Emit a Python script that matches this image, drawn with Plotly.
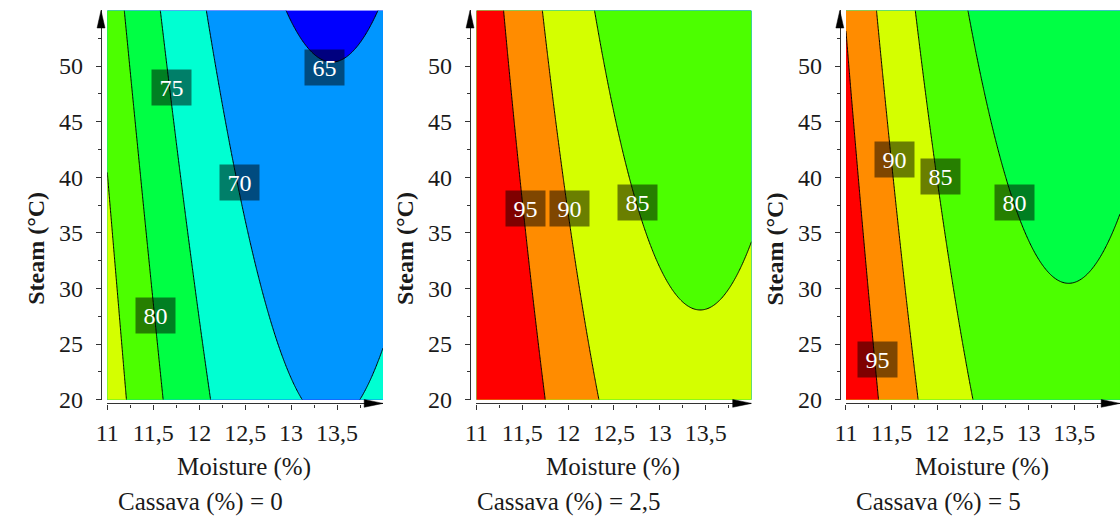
import numpy as np
import plotly.graph_objects as go

# ---------------- data ----------------
x_tickvals = [11, 11.5, 12, 12.5, 13, 13.5]
x_ticktext = ["11", "11,5", "12", "12,5", "13", "13,5"]
x_minor = [11.25, 11.75, 12.25, 12.75, 13.25, 13.75]
y_tickvals = [20, 25, 30, 35, 40, 45, 50]
y_minor = [22.5, 27.5, 32.5, 37.5, 42.5, 47.5, 52.5]
x_range = [11, 14]
y_range = [20, 55]
level_start, level_end, level_step = 60, 95, 5
band_colors = ["#0000ff", "#0000ff", "#0096ff", "#00ffd2", "#00ff44",
               "#4cff00", "#d4ff00", "#ff8c00", "#ff0000"]
cassava_values = ["0", "2,5", "5"]

# contour crossings: moisture, steam, level
p1_moist = [11.21, 11.11, 11.00, 11.607, 11.525, 11.345, 11.183, 12.12, 11.85, 11.72, 11.58,
            13.09, 12.89, 12.69, 12.42, 12.06, 13.75, 14.00, 12.93, 13.48, 13.93]
p1_steam = [20, 30, 40.3, 20, 27.5, 40, 55, 20, 35, 48.1, 55,
            20, 25, 30, 39.4, 55, 20, 24.6, 55, 50.06, 55]
p1_level = [85, 85, 85, 80, 80, 80, 80, 75, 75, 75, 75,
            70, 70, 70, 70, 70, 70, 70, 65, 65, 65]

p2_moist = [11.30, 11.40, 11.51, 11.755, 11.727, 11.997, 12.327, 12.273, 12.52, 12.77, 13.427, 14.0]
p2_steam = [55, 45, 37.2, 20, 55, 37, 20, 55, 45, 37.7, 27.86, 34.25]
p2_level = [95, 95, 95, 95, 90, 90, 90, 85, 85, 85, 85, 85]

p3_moist = [11.00, 11.18, 11.36, 11.342, 11.52, 11.79, 11.755, 12.01, 12.385, 12.33, 12.73, 13.427, 13.985]
p3_steam = [52.8, 35, 20, 55, 40, 20, 55, 40, 20, 55, 40, 30.38, 36.6]
p3_level = [95, 95, 95, 90, 90, 90, 85, 85, 85, 80, 80, 80, 80]

# contour labels: text, moisture, steam
p1_labels = [("75", 11.70, 48.1), ("70", 12.44, 39.5), ("65", 13.36, 49.9), ("80", 11.53, 27.6)]
p2_labels = [("95", 11.54, 37.2), ("90", 12.01, 37.2), ("85", 12.76, 37.7)]
p3_labels = [("90", 11.53, 41.6), ("85", 12.03, 40.1), ("80", 12.85, 37.7), ("95", 11.34, 23.6)]

panels = [
    (p1_moist, p1_steam, p1_level, p1_labels),
    (p2_moist, p2_steam, p2_level, p2_labels),
    (p3_moist, p3_steam, p3_level, p3_labels),
]

# ---------------- layout geometry (pixels) ----------------
W, H = 1120, 531
plot_left = [96.3, 469.5, 843.0]
plot_right = [375.0, 747.5, 1120.0]
plot_top, plot_bottom = 10.7, 409.7
yaxis_px = [90.0, 463.0, 836.8]
xaxis_py = 413.5
FONT = "Liberation Serif, Times New Roman, serif"
TXT = "#1a1a1a"


def fx(px):
    return px / W


def fy(py):
    return 1 - py / H


def fit_surface(mx, st, lv):
    mx = np.asarray(mx, float)
    st = np.asarray(st, float)
    lv = np.asarray(lv, float)
    u = (mx - 12.5) / 1.5
    v = (st - 37.5) / 17.5
    A = np.column_stack([np.ones_like(u), u, v, u * u, v * v, u * v])
    coef, *_ = np.linalg.lstsq(A, lv, rcond=None)
    return coef


def eval_surface(coef, X, Y):
    u = (X - 12.5) / 1.5
    v = (Y - 37.5) / 17.5
    return coef[0] + coef[1] * u + coef[2] * v + coef[3] * u * u + coef[4] * v * v + coef[5] * u * v


# stepwise colorscale: 9 bands (below 60 ... above 95) evenly spread
nb = len(band_colors)
colorscale = []
for k, c in enumerate(band_colors):
    lo = max(0.0, (k - 0.5) / (nb - 1))
    hi = min(1.0, (k + 0.5) / (nb - 1))
    colorscale.append([lo, c])
    colorscale.append([hi, c])

gx = np.linspace(x_range[0], x_range[1], 241)
gy = np.linspace(y_range[0], y_range[1], 281)
GX, GY = np.meshgrid(gx, gy)

fig = go.Figure()
annotations = []
shapes = []
layout_axes = {}
AXC = "#333"

for i, (mx, st, lv, labels) in enumerate(panels):
    n = i + 1
    sfx = "" if n == 1 else str(n)
    coef = fit_surface(mx, st, lv)
    Z = eval_surface(coef, GX, GY)
    fig.add_trace(go.Contour(
        x=gx, y=gy, z=Z, xaxis="x" + sfx, yaxis="y" + sfx,
        autocontour=False,
        contours=dict(start=level_start, end=level_end, size=level_step,
                      coloring="fill", showlines=True),
        line=dict(color="black", width=1),
        colorscale=colorscale, showscale=False, hoverinfo="skip",
    ))

    xdom = [fx(plot_left[i]), fx(plot_right[i])]
    ydom = [fy(plot_bottom), fy(plot_top)]
    tickfont = dict(family=FONT, size=24, color=TXT)
    layout_axes["xaxis" + sfx] = dict(
        domain=xdom, range=x_range, anchor="free", position=fy(xaxis_py),
        tickmode="array", tickvals=x_tickvals, ticktext=x_ticktext,
        ticks="outside", ticklen=5, tickwidth=1.3, tickcolor=AXC,
        minor=dict(tickmode="array", tickvals=x_minor, ticks="outside", ticklen=3, tickcolor=AXC),
        showline=True, linecolor=AXC, linewidth=1.3, showgrid=False, zeroline=False,
        tickfont=tickfont, ticklabelstandoff=3, fixedrange=True,
    )
    layout_axes["yaxis" + sfx] = dict(
        domain=ydom, range=y_range, anchor="free", position=fx(yaxis_px[i]),
        tickmode="array", tickvals=y_tickvals,
        ticks="outside", ticklen=5, tickwidth=1.3, tickcolor=AXC,
        minor=dict(tickmode="array", tickvals=y_minor, ticks="outside", ticklen=3, tickcolor=AXC),
        showline=True, linecolor=AXC, linewidth=1.3, showgrid=False, zeroline=False,
        tickfont=tickfont, ticklabelstandoff=8, fixedrange=True,
    )
    # overlay axes so the ticks cross the axis line
    layout_axes["xaxis" + str(n + 3)] = dict(
        overlaying="x" + sfx, range=x_range, anchor="free", position=fy(xaxis_py),
        tickmode="array", tickvals=x_tickvals, showticklabels=False,
        ticks="inside", ticklen=5, tickwidth=1.3, tickcolor=AXC,
        minor=dict(tickmode="array", tickvals=x_minor, ticks="inside", ticklen=3, tickcolor=AXC),
        showline=False, showgrid=False, zeroline=False, fixedrange=True,
    )
    layout_axes["yaxis" + str(n + 3)] = dict(
        overlaying="y" + sfx, range=y_range, anchor="free", position=fx(yaxis_px[i]),
        tickmode="array", tickvals=y_tickvals, showticklabels=False,
        ticks="inside", ticklen=5, tickwidth=1.3, tickcolor=AXC,
        minor=dict(tickmode="array", tickvals=y_minor, ticks="inside", ticklen=3, tickcolor=AXC),
        showline=False, showgrid=False, zeroline=False, fixedrange=True,
    )

    # arrowheads
    ax = yaxis_px[i]
    shapes.append(dict(type="path", xref="paper", yref="paper", layer="above",
                       path=f"M {fx(ax)},{fy(plot_top)} L {fx(ax - 4)},{fy(plot_top + 18)} "
                            f"L {fx(ax + 4)},{fy(plot_top + 18)} Z",
                       fillcolor="black", line=dict(color="black", width=0.5)))
    tx = plot_right[i]
    shapes.append(dict(type="path", xref="paper", yref="paper", layer="above",
                       path=f"M {fx(tx)},{fy(xaxis_py)} L {fx(tx - 19)},{fy(xaxis_py - 4)} "
                            f"L {fx(tx - 19)},{fy(xaxis_py + 4)} Z",
                       fillcolor="black", line=dict(color="black", width=0.5)))

    # contour value labels
    for txt, lx, ly in labels:
        annotations.append(dict(
            text=txt, x=lx, y=ly, xref="x" + sfx, yref="y" + sfx, showarrow=False,
            bgcolor="rgba(0,0,0,0.5)", width=39, height=35, borderpad=0,
            font=dict(family=FONT, size=24, color="white"),
        ))

    cx = (plot_left[i] + plot_right[i]) / 2
    annotations.append(dict(text="Moisture (%)", x=fx(cx - 1), y=fy(479), xref="paper", yref="paper",
                            showarrow=False, xanchor="center", yanchor="middle",
                            font=dict(family=FONT, size=25, color=TXT)))
    annotations.append(dict(text="Cassava (%) = " + cassava_values[i], x=fx(plot_left[i] + 94),
                            y=fy(515), xref="paper", yref="paper",
                            showarrow=False, xanchor="center", yanchor="middle",
                            font=dict(family=FONT, size=25, color=TXT)))
    annotations.append(dict(text="<b>Steam (°C)</b>", x=fx(plot_left[i] - 72), y=fy(255),
                            xref="paper", yref="paper", textangle=-90,
                            showarrow=False, xanchor="center", yanchor="middle",
                            font=dict(family=FONT, size=24, color=TXT)))

fig.update_layout(
    width=W, height=H, margin=dict(l=0, r=0, t=0, b=0),
    paper_bgcolor="white", plot_bgcolor="white",
    showlegend=False, annotations=annotations, shapes=shapes,
    **layout_axes,
)

fig.write_html("out.html", config={"displayModeBar": False},
               post_script="document.body.style.margin='0';")
